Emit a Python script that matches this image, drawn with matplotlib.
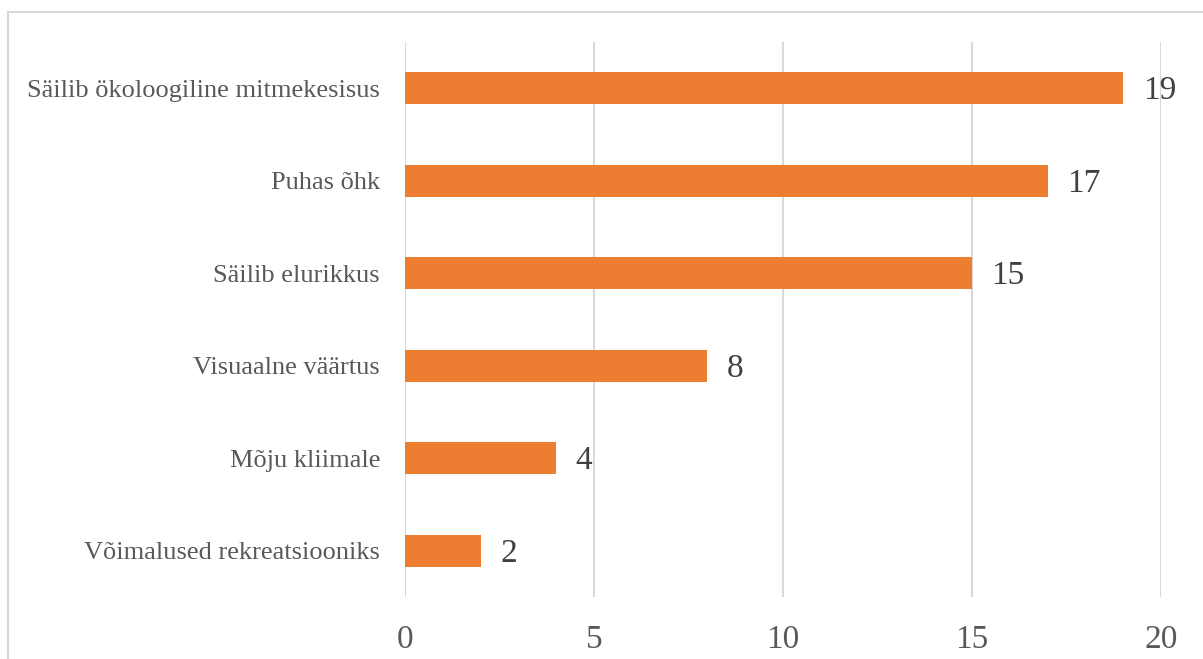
import matplotlib.pyplot as plt
from matplotlib.patches import Rectangle

categories = ["Säilib ökoloogiline mitmekesisus", "Puhas õhk", "Säilib elurikkus",
              "Visuaalne väärtus", "Mõju kliimale", "Võimalused rekreatsiooniks"]
counts = [19, 17, 15, 8, 4, 2]
xticks = [0, 5, 10, 15, 20]

plt.rcParams['font.family'] = ['Liberation Serif', 'DejaVu Serif']

fig = plt.figure(figsize=(12.03, 6.59), dpi=100)
ax = fig.add_axes([405 / 1203, 1 - 597 / 659, 756 / 1203, 555 / 659])

ypos = list(range(len(categories)))[::-1]
ax.barh(ypos, counts, height=0.35, color='#ED7D31', zorder=2)
for y, v in zip(ypos, counts):
    ax.annotate(str(v), (v, y), xytext=(14, -2), textcoords='offset points',
                ha='left', va='center', fontsize=24, color='#404040', zorder=3)

ax.set_xlim(0, 20)
ax.set_ylim(-0.5, len(categories) - 0.5)
ax.set_xticks(xticks)
ax.set_xticklabels([str(t) for t in xticks], fontsize=24, color='#595959')
ax.set_yticks(ypos)
ax.set_yticklabels(categories, fontsize=19, color='#595959')
ax.tick_params(axis='both', length=0)
ax.tick_params(axis='y', pad=18)
ax.tick_params(axis='x', pad=20)
ax.xaxis.grid(True, color='#D9D9D9', linewidth=1.5, zorder=0)
ax.set_axisbelow(True)
for s in ax.spines.values():
    s.set_visible(False)

# outer chart frame, open on the right and bottom
fig.patches.append(Rectangle((8 / 1203, -0.1), 1.2, 1 - 12 / 659 + 0.1,
                             transform=fig.transFigure, fill=False,
                             edgecolor='#D9D9D9', linewidth=1.5))

fig.savefig('out.png', dpi=100)
